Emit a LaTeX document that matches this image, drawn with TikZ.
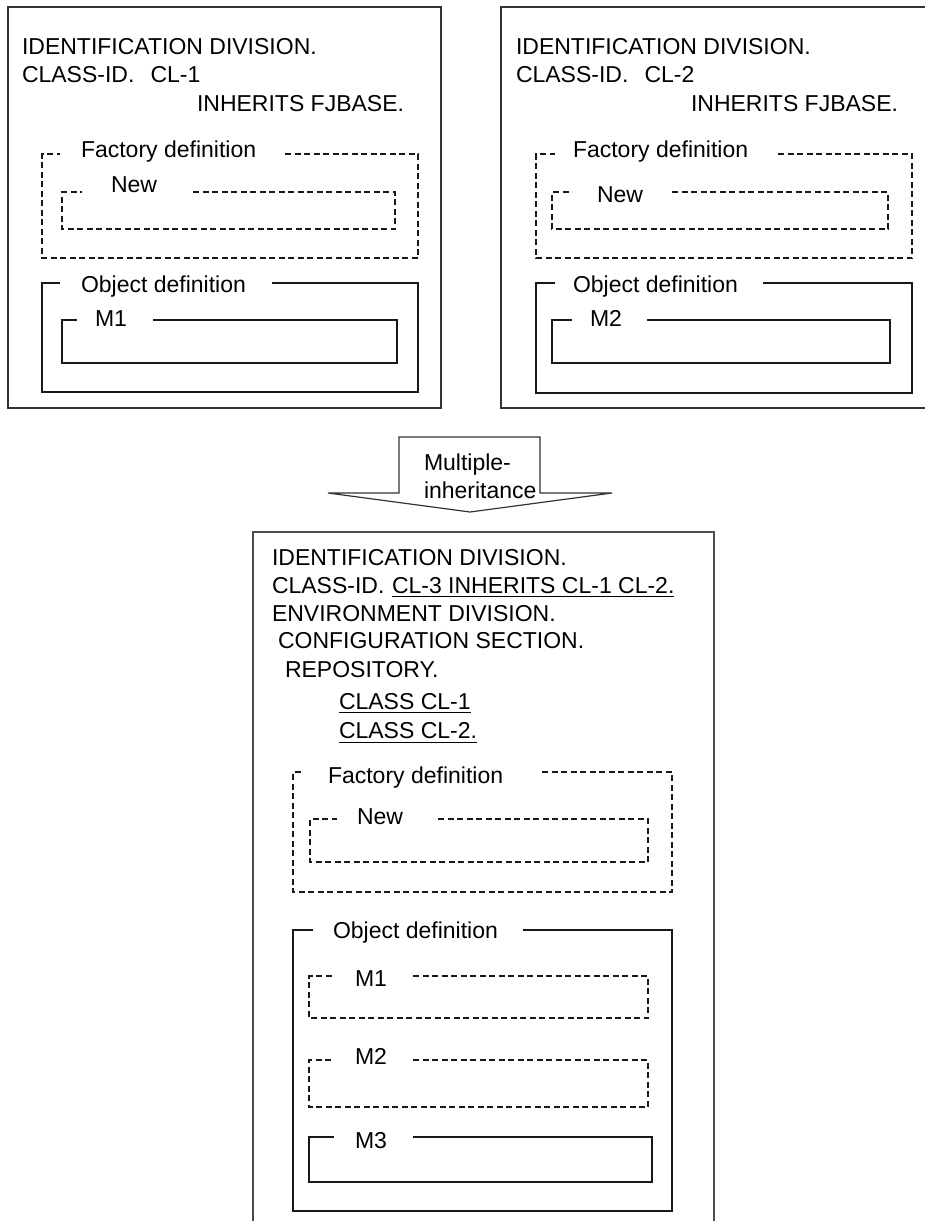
\documentclass[tikz,border=0pt]{standalone}
\usepackage{fontspec}
\setmainfont{Liberation Sans}
\begin{document}
\begin{tikzpicture}[x=1pt,y=-1pt,
  box/.style={line width=1.3pt, draw=black!90, line join=miter},
  outerbox/.style={line width=1.3pt, draw=black!80},
  dbox/.style={box, dash pattern=on 6pt off 3.5pt},
  lbl/.style={anchor=base west, inner sep=0pt, outer sep=0pt, font=\fontsize{23}{28}\selectfont},
  uline/.style={line width=1.1pt, draw=black}]
\newcommand\gapbox[7]{% style, x1,y1,x2,y2, gap start, gap end
  \draw[#1] (#7,#3) -- (#4,#3) -- (#4,#5) -- (#2,#5) -- (#2,#3) -- (#6,#3);}
\useasboundingbox (0,0) rectangle (925,1221);
\clip (0,0) rectangle (925,1221);

% ---------------- top-left class CL-1 ----------------
\draw[outerbox] (8,7) rectangle (441,408);
\node[lbl] (tl1) at (22,54) {IDENTIFICATION DIVISION.};
\node[lbl] (tl2) at (22,82) {CLASS-ID.\hspace{0.7em}CL-1};
\node[lbl] (tl3) at (197,111) {INHERITS FJBASE.};
\gapbox{dbox}{42}{154}{418}{258}{60}{285}
\node[lbl] (tlf) at (81,157) {Factory definition};
\gapbox{dbox}{62}{192}{395}{229}{82}{193}
\node[lbl] (tln) at (111,192) {New};
\gapbox{box}{42}{283}{418}{392}{60}{272}
\node[lbl] (tlo) at (81,292) {Object definition};
\gapbox{box}{62}{320}{397}{363}{77}{153}
\node[lbl] (tlm) at (95,326) {M1};

% ---------------- top-right class CL-2 ----------------
\draw[outerbox] (501,7) rectangle (940,408);
\node[lbl] (tr1) at (516,54) {IDENTIFICATION DIVISION.};
\node[lbl] (tr2) at (516,82) {CLASS-ID.\hspace{0.7em}CL-2};
\node[lbl] (tr3) at (691,111) {INHERITS FJBASE.};
\gapbox{dbox}{536}{154}{912}{258}{555}{778}
\node[lbl] (trf) at (573,157) {Factory definition};
\gapbox{dbox}{552}{192}{888}{229}{572}{672}
\node[lbl] (trn) at (597,202) {New};
\gapbox{box}{536}{283}{912}{393}{555}{763}
\node[lbl] (tro) at (573,292) {Object definition};
\gapbox{box}{552}{320}{890}{363}{572}{647}
\node[lbl] (trm) at (590,326) {M2};

% ---------------- arrow ----------------
\draw[line width=1.2pt, draw=black!80, fill=white, line join=miter]
  (399,437) -- (540,437) -- (540,493) -- (612,493) -- (470,512)
  -- (328,493) -- (399,493) -- cycle;
\node[lbl] (ar1) at (424,470) {Multiple-};
\node[lbl] (ar2) at (424,498) {inheritance};

% ---------------- bottom class CL-3 ----------------
\draw[outerbox, draw=black!70] (253,532) rectangle (714,1240);
\node[lbl] (b1) at (272,565) {IDENTIFICATION DIVISION.};
\node[lbl] (b2) at (272,593) {CLASS-ID.};
\node[lbl] (b2u) at (392,593) {CL-3 INHERITS CL-1 CL-2.};
\draw[uline] ([yshift=-3.5pt]b2u.base west) -- ([yshift=-3.5pt]b2u.base east);
\node[lbl] (b3) at (272,621) {ENVIRONMENT DIVISION.};
\node[lbl] (b4) at (278,648) {CONFIGURATION SECTION.};
\node[lbl] (b5) at (285,677) {REPOSITORY.};
\node[lbl] (b6) at (339,709) {CLASS CL-1};
\draw[uline] ([yshift=-3.5pt]b6.base west) -- ([yshift=-3.5pt]b6.base east);
\node[lbl] (b7) at (339,738) {CLASS CL-2.};
\draw[uline] ([yshift=-4.5pt]b7.base west) -- ([yshift=-4.5pt]b7.base east);

\gapbox{dbox}{293}{772}{672}{892}{303}{542}
\node[lbl] (bf) at (328,783) {Factory definition};
\gapbox{dbox}{310}{819}{648}{862}{337}{438}
\node[lbl] (bn) at (357,824) {New};
\gapbox{box}{293}{930}{672}{1211}{313}{523}
\node[lbl] (bo) at (333,938) {Object definition};
\gapbox{dbox}{309}{976}{648}{1018}{332}{413}
\node[lbl] (bm1) at (355,986) {M1};
\gapbox{dbox}{309}{1060}{648}{1107}{332}{413}
\node[lbl] (bm2) at (355,1064) {M2};
\gapbox{box}{309}{1137}{652}{1182}{334}{413}
\node[lbl] (bm3) at (355,1148) {M3};
\end{tikzpicture}
\end{document}
